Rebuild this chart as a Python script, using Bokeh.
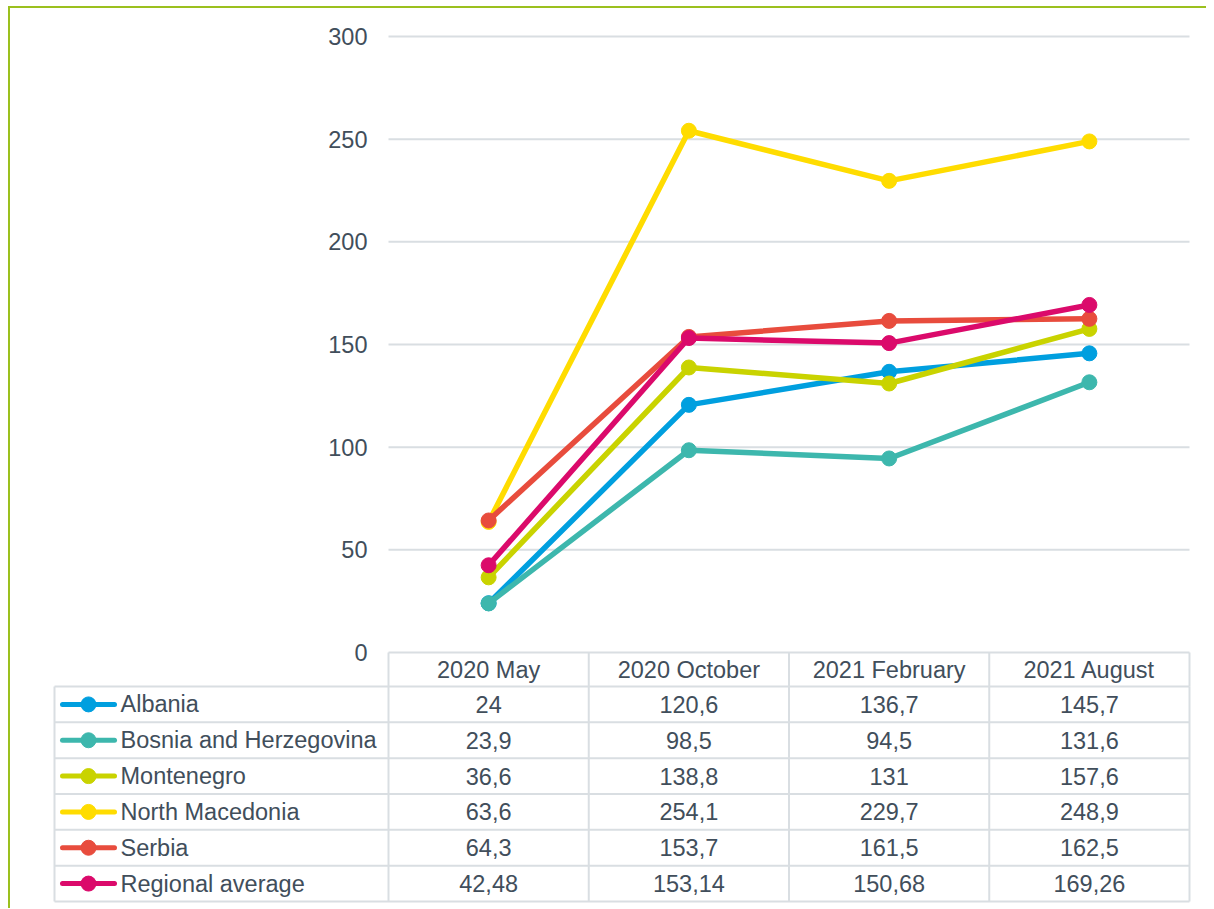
from bokeh.plotting import figure
from bokeh.layouts import column
from bokeh.models import Range1d, FixedTicker
from bokeh.core.properties import value
from bokeh.embed import file_html
from bokeh.resources import INLINE

# ---------------- data ----------------
periods = ["2020 May", "2020 October", "2021 February", "2021 August"]
countries = ["Albania", "Bosnia and Herzegovina", "Montenegro",
             "North Macedonia", "Serbia", "Regional average"]
albania = [24, 120.6, 136.7, 145.7]
bosnia_herzegovina = [23.9, 98.5, 94.5, 131.6]
montenegro = [36.6, 138.8, 131, 157.6]
north_macedonia = [63.6, 254.1, 229.7, 248.9]
serbia = [64.3, 153.7, 161.5, 162.5]
regional_average = [42.48, 153.14, 150.68, 169.26]
y_ticks = [0, 50, 100, 150, 200, 250, 300]

series = [albania, bosnia_herzegovina, montenegro, north_macedonia, serbia, regional_average]
colors = ["#009FDF", "#3DB7AD", "#C9D300", "#FFDC00", "#E84C3D", "#DB0A6B"]

TEXT = "#414E5B"
GRID = "#D9DEE2"
FONT = value("Liberation Sans")
FS = "23.5px"

# ---------------- layout constants (page px) ----------------
FIG_L, FIG_T, FIG_W, FIG_H = 10, 8, 1196, 900
COL_L, COL_R, LAB_L = 388, 1189, 54
Y300, Y0, HDR_B, TAB_B = 36, 652, 686, 901
CW = (COL_R - COL_L) / len(periods)
PPU = (Y0 - Y300) / 300.0
ROW_H = (TAB_B - HDR_B) / len(countries)


def dx(px):
    return (px - COL_L) / CW


def dy(py):
    return (Y0 - py) / PPU


def fmt(v):
    return f"{v:g}".replace(".", ",")


np_ = len(periods)
nc = len(countries)
xs = [i + 0.5 for i in range(np_)]

p = figure(width=FIG_W, height=FIG_H, output_backend="svg", toolbar_location=None,
           x_range=Range1d(dx(FIG_L), dx(FIG_L + FIG_W)),
           y_range=Range1d(dy(FIG_T + FIG_H), dy(FIG_T)),
           x_axis_location=None,
           min_border_left=0, min_border_right=0, min_border_top=0, min_border_bottom=0)
p.outline_line_color = None
p.background_fill_color = "white"
p.border_fill_color = "white"
p.xgrid.visible = False
p.ygrid.visible = False

ax = p.yaxis[0]
ax.ticker = FixedTicker(ticks=y_ticks)
ax.axis_line_color = None
ax.major_tick_line_color = None
ax.minor_tick_line_color = None
ax.major_tick_out = 0
ax.major_tick_in = 0
ax.major_label_standoff = -(367 - FIG_L)
ax.major_label_text_font = "Liberation Sans"
ax.major_label_text_font_size = FS
ax.major_label_text_color = TEXT

# horizontal grid lines (value ticks) across the data columns
p.segment(x0=[0] * len(y_ticks), y0=y_ticks, x1=[np_] * len(y_ticks), y1=y_ticks,
          line_color=GRID, line_width=2)

# header row
cols = list(range(np_ + 1))
p.segment(x0=cols, y0=[0] * len(cols), x1=cols, y1=[dy(HDR_B)] * len(cols),
          line_color=GRID, line_width=2)
p.text(x=xs, y=[dy((Y0 + HDR_B) / 2)] * np_, text=periods,
       text_font=FONT, text_font_size=FS, text_color=TEXT,
       text_align="center", text_baseline="middle")

# table body grid
row_edges = [dy(HDR_B + k * ROW_H) for k in range(nc + 1)]
p.segment(x0=[dx(LAB_L)] * (nc + 1), y0=row_edges, x1=[np_] * (nc + 1), y1=row_edges,
          line_color=GRID, line_width=2)
vx = [dx(LAB_L)] + cols
p.segment(x0=vx, y0=[dy(HDR_B)] * len(vx), x1=vx, y1=[dy(TAB_B)] * len(vx),
          line_color=GRID, line_width=2)

# legend keys + names
ys = [dy(HDR_B + (k + 0.5) * ROW_H) for k in range(nc)]
p.segment(x0=[dx(62)] * nc, y0=ys, x1=[dx(114)] * nc, y1=ys,
          line_color=colors, line_width=5, line_cap="round")
p.scatter(x=[dx(88)] * nc, y=ys, size=15, fill_color=colors, line_color=colors)
p.text(x=[dx(120)] * nc, y=ys, text=countries, text_font=FONT, text_font_size=FS,
       text_color=TEXT, text_align="left", text_baseline="middle")

# table values
cell_x, cell_y, cell_t = [], [], []
for k, vals in enumerate(series):
    for i, v in enumerate(vals):
        cell_x.append(xs[i])
        cell_y.append(ys[k])
        cell_t.append(fmt(v))
p.text(x=cell_x, y=cell_y, text=cell_t, text_font=FONT, text_font_size=FS,
       text_color=TEXT, text_align="center", text_baseline="middle")

# series lines
for vals, c in zip(series, colors):
    p.line(xs, vals, line_color=c, line_width=5.5, line_join="round", line_cap="round")
    p.scatter(xs, vals, size=15, fill_color=c, line_color=c, marker="circle")

layout = column(p, styles={"border-left": "2px solid #9BC01E",
                           "border-top": "2px solid #9BC01E",
                           "margin-left": "8px", "margin-top": "6px"})

open("out.html", "w").write(file_html(layout, INLINE))
